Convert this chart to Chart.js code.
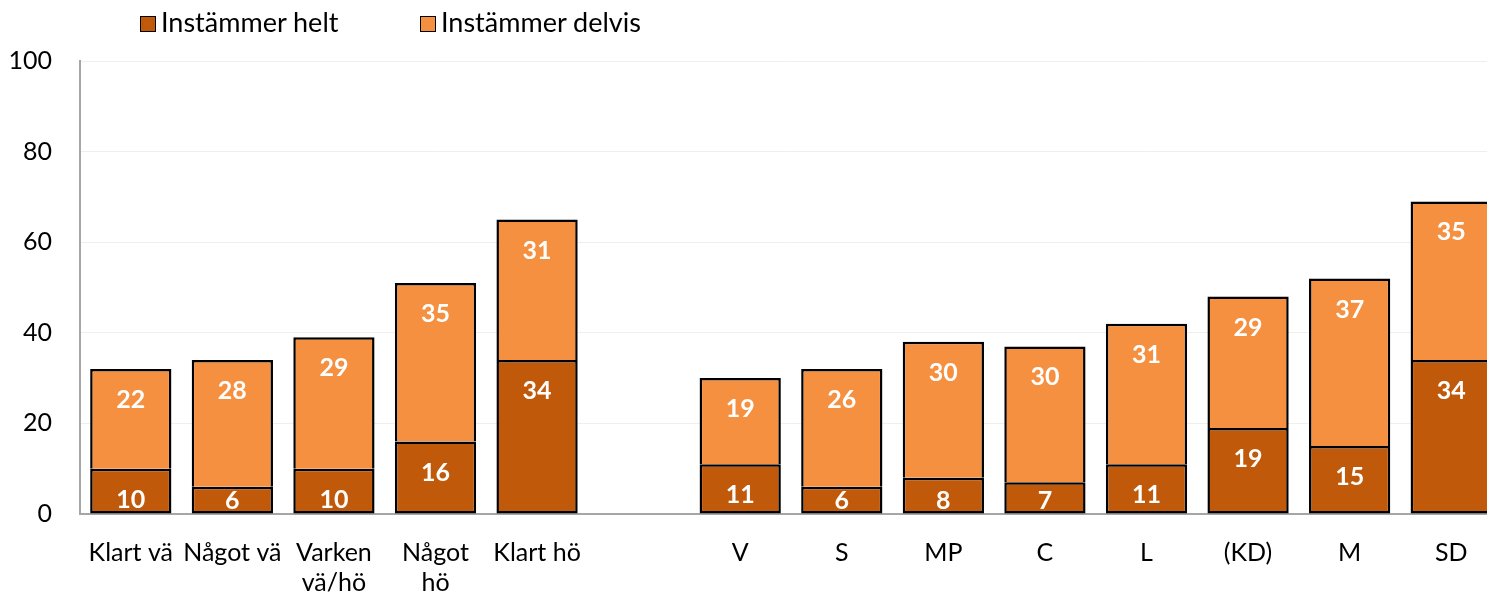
<!DOCTYPE html>
<html>
<head>
<meta charset="utf-8">
<script src="https://cdn.jsdelivr.net/npm/chart.js@4/dist/chart.umd.min.js"></script>
<style>
    body { margin: 0; background: #fff; overflow: hidden; font-family: Lato, 'Open Sans', sans-serif; }
    #wrap { position: relative; width: 1502px; height: 596px; }
    #legend { position: absolute; top: 6px; left: 140px; font-size: 27px; color: #000; }
    .item { position: absolute; white-space: nowrap; line-height: 32px; }
    .box { display: inline-block; width: 14px; height: 14px; border: 1.5px solid #000; vertical-align: 0px; margin-right: 5px; }
</style>
</head>
<body>
<div id="wrap">
    <canvas id="chart" width="1502" height="596"></canvas>
    <div id="legend">
        <div class="item" style="left:0"><span class="box" style="background:#C05A0A"></span>Instämmer helt</div>
        <div class="item" style="left:280px"><span class="box" style="background:#F4903F"></span>Instämmer delvis</div>
    </div>
</div>
<script>
const categories = ['Klart vä', 'Något vä', ['Varken', 'vä/hö'], ['Något', 'hö'], 'Klart hö', '',
    'V', 'S', 'MP', 'C', 'L', '(KD)', 'M', 'SD'];
const instammerHelt = [10, 6, 10, 16, 34, null, 11, 6, 8, 7, 11, 19, 15, 34];
const instammerDelvis = [22, 28, 29, 35, 31, null, 19, 26, 30, 30, 31, 29, 37, 35];
const yTicks = [0, 20, 40, 60, 80, 100];

const FONT = 'Lato, "Open Sans", sans-serif';

// White value labels near the top of each segment (like Excel "inside end")
const valueLabels = {
    id: 'valueLabels',
    afterDatasetsDraw(chart) {
        const ctx = chart.ctx;
        ctx.save();
        ctx.fillStyle = '#fff';
        ctx.font = 'bold 25px ' + FONT;
        ctx.textAlign = 'center';
        ctx.textBaseline = 'middle';
        chart.data.datasets.forEach((ds, i) => {
            chart.getDatasetMeta(i).data.forEach((bar, j) => {
                const v = ds.data[j];
                if (v == null) return;
                const top = Math.min(bar.y, bar.base);
                const bottom = Math.max(bar.y, bar.base);
                const y = Math.min(top + 31, bottom - 13);
                ctx.fillText(String(v), bar.x, y);
            });
        });
        ctx.restore();
    }
};

new Chart(document.getElementById('chart'), {
    type: 'bar',
    data: {
        labels: categories,
        datasets: [
            {
                label: 'Instämmer helt',
                data: instammerHelt,
                backgroundColor: '#C05A0A',
                borderColor: '#000',
                borderWidth: 2.5,
                borderSkipped: false
            },
            {
                label: 'Instämmer delvis',
                data: instammerDelvis,
                backgroundColor: '#F4903F',
                borderColor: '#000',
                borderWidth: 2.5,
                borderSkipped: 'bottom'
            }
        ]
    },
    options: {
        responsive: false,
        animation: false,
        layout: { padding: { top: 61, right: 0, left: 0, bottom: 0 } },
        datasets: { bar: { categoryPercentage: 1, barPercentage: 0.8 } },
        plugins: {
            legend: { display: false },
            tooltip: { enabled: false }
        },
        scales: {
            x: {
                stacked: true,
                grid: { display: false },
                border: { display: true, color: '#a6a6a6', width: 2 },
                ticks: {
                    color: '#000',
                    font: { family: FONT, size: 25 },
                    padding: 16,
                    maxRotation: 0,
                    autoSkip: false
                },
                afterFit(scale) { scale.height = 82; }
            },
            y: {
                stacked: true,
                min: 0,
                max: 100,
                afterBuildTicks(scale) { scale.ticks = yTicks.map(v => ({ value: v })); },
                grid: { color: '#f0efe8', lineWidth: 1, drawTicks: false },
                border: { display: true, color: '#a6a6a6', width: 2 },
                ticks: {
                    color: '#000',
                    font: { family: FONT, size: 25 },
                    padding: 28
                },
                afterFit(scale) { scale.width = 80; }
            }
        }
    },
    plugins: [valueLabels]
});
</script>
</body>
</html>
